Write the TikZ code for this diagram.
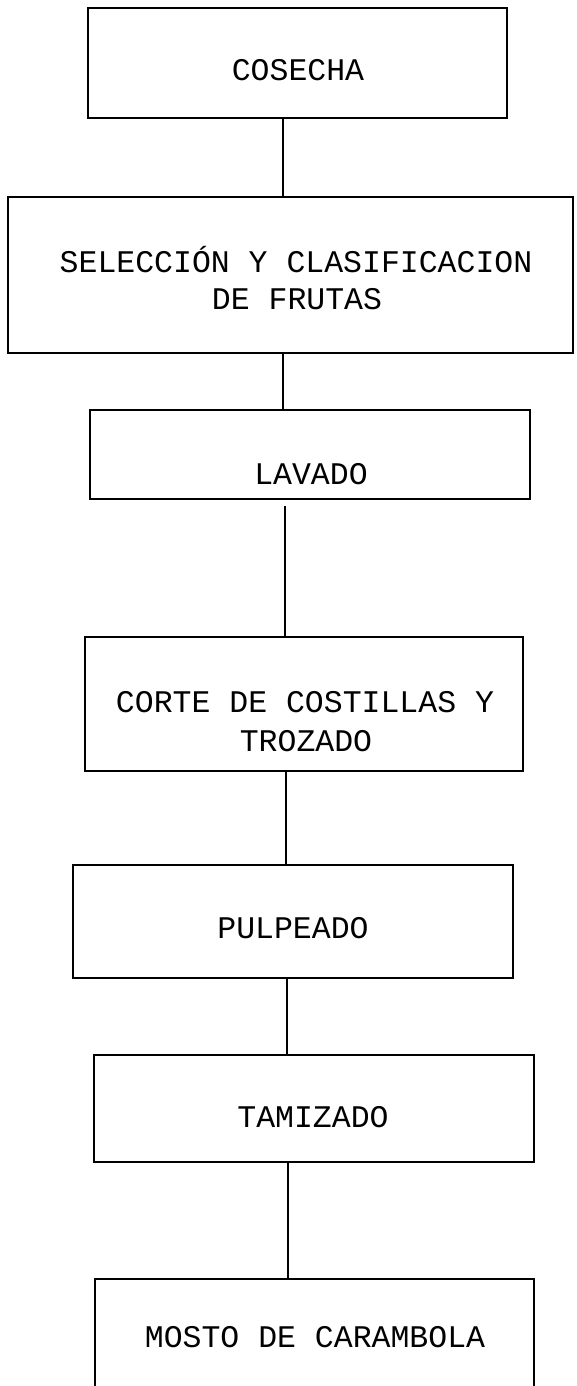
\documentclass[tikz,border=0pt]{standalone}
\usepackage{fontspec}
\newfontfamily\boxfont{Liberation Mono}
\begin{document}
\begin{tikzpicture}[x=1pt,y=-1pt,
  stepbox/.style={draw, line width=1.5pt, rectangle, inner sep=0pt},
  steptext/.style={font=\boxfont\fontsize{31.5}{38}\selectfont, anchor=base, inner sep=0pt},
  link/.style={line width=1.5pt}]
\clip (0,0) rectangle (576,1386);
% boxes
\node[stepbox, minimum width=419pt, minimum height=110pt] (b1) at (297.5,63) {};
\node[stepbox, minimum width=565pt, minimum height=156pt] (b2) at (290.5,275) {};
\node[stepbox, minimum width=440pt, minimum height=89pt]  (b3) at (310,454.5) {};
\node[stepbox, minimum width=438pt, minimum height=134pt] (b4) at (304,704) {};
\node[stepbox, minimum width=440pt, minimum height=113pt] (b5) at (293,921.5) {};
\node[stepbox, minimum width=440pt, minimum height=107pt] (b6) at (314,1108.5) {};
\node[stepbox, minimum width=439pt, minimum height=130pt] (b7) at (314.5,1344) {};
% texts
\node[steptext] (t1)  at (298,81) {COSECHA};
\node[steptext] (t2a) at (296,272) {SELECCIÓN Y CLASIFICACION};
\node[steptext] (t2b) at (297,309) {DE FRUTAS};
\node[steptext] (t3)  at (311,484) {LAVADO};
\node[steptext] (t4a) at (305,712) {CORTE DE COSTILLAS Y};
\node[steptext] (t4b) at (306,751) {TROZADO};
\node[steptext] (t5)  at (293,938) {PULPEADO};
\node[steptext] (t6)  at (313,1127) {TAMIZADO};
\node[steptext] (t7)  at (315,1347) {MOSTO DE CARAMBOLA};
% connector columns
\coordinate (c1) at (283,0);
\coordinate (c2) at (283,0);
\coordinate (c3) at (285,0);
\coordinate (c4) at (286,0);
\coordinate (c5) at (287,0);
\coordinate (c6) at (288,0);
\draw[link] (b1.south -| c1) -- (b2.north -| c1);
\draw[link] (b2.south -| c2) -- (b3.north -| c2);
\draw[link, shorten <=6pt] (b3.south -| c3) -- (b4.north -| c3);
\draw[link] (b4.south -| c4) -- (b5.north -| c4);
\draw[link] (b5.south -| c5) -- (b6.north -| c5);
\draw[link] (b6.south -| c6) -- (b7.north -| c6);
\end{tikzpicture}
\end{document}
